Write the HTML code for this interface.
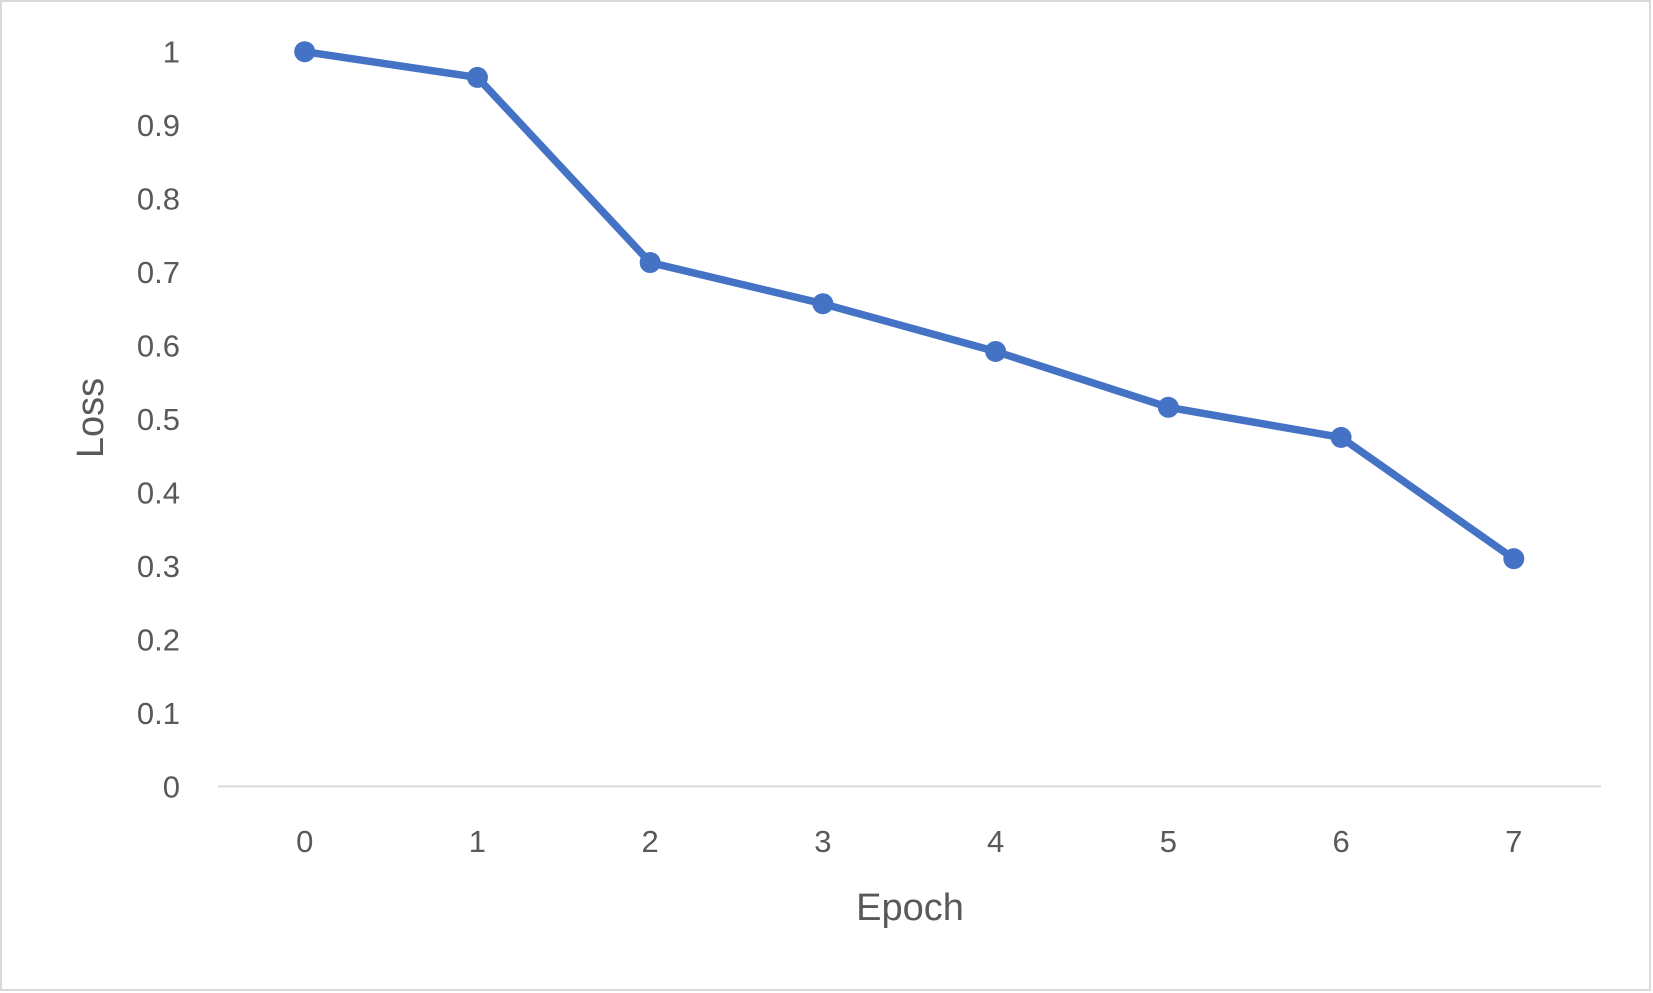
<!DOCTYPE html>
<html><head><meta charset="utf-8"><style>
html,body{margin:0;padding:0;background:#fff;}
svg{display:block;}
text{font-family:"Liberation Sans",sans-serif;fill:#595959;}
</style></head><body>
<svg id="chart" width="1653" height="993">
<rect x="1" y="1" width="1649" height="989" fill="#fff" stroke="#d9d9d9" stroke-width="2"/>
<g id="yticks"></g>
<g id="xticks"></g>
<line id="xaxis" stroke="#d9d9d9" stroke-width="2"/>
<g id="series"></g>
<text x="910" y="920" font-size="38" text-anchor="middle">Epoch</text>
<text transform="translate(103,418) rotate(-90)" font-size="38" text-anchor="middle">Loss</text>
</svg>
<script>
const epochs=[0,1,2,3,4,5,6,7];
const lossValues=[1,0.965,0.713,0.657,0.592,0.516,0.475,0.31];
const yTickLabels=["0","0.1","0.2","0.3","0.4","0.5","0.6","0.7","0.8","0.9","1"];
const NS="http://www.w3.org/2000/svg";
const xScale=e=>304.7+(e-0)*(1513.8-304.7)/7;
const yScale=v=>786.4-v*(786.4-51.7);
const yt=document.getElementById('yticks');
yTickLabels.forEach(l=>{
  const t=document.createElementNS(NS,'text');
  t.setAttribute('x',180);t.setAttribute('y',yScale(parseFloat(l))+11);
  t.setAttribute('font-size','31');t.setAttribute('text-anchor','end');
  t.textContent=l;
  
  
  yt.appendChild(t);
});
const xt=document.getElementById('xticks');
epochs.forEach(e=>{
  const t=document.createElementNS(NS,'text');
  t.setAttribute('x',xScale(e));t.setAttribute('y',852);
  t.setAttribute('font-size','31');t.setAttribute('text-anchor','middle');
  t.textContent=String(e);
  
  
  xt.appendChild(t);
});
const ax=document.getElementById('xaxis');
ax.setAttribute('x1',218);ax.setAttribute('x2',1601);
ax.setAttribute('y1',yScale(0));ax.setAttribute('y2',yScale(0));
const g=document.getElementById('series');
const pl=document.createElementNS(NS,'polyline');
pl.setAttribute('points',epochs.map((e,i)=>xScale(e)+','+yScale(lossValues[i])).join(' '));
pl.setAttribute('fill','none');pl.setAttribute('stroke','#4472C4');
pl.setAttribute('stroke-width','7.5');pl.setAttribute('stroke-linejoin','round');


g.appendChild(pl);
epochs.forEach((e,i)=>{
  const c=document.createElementNS(NS,'circle');
  c.setAttribute('cx',xScale(e));c.setAttribute('cy',yScale(lossValues[i]));
  c.setAttribute('r','10.5');c.setAttribute('fill','#4472C4');
  
  
  g.appendChild(c);
});
</script>
</body></html>
